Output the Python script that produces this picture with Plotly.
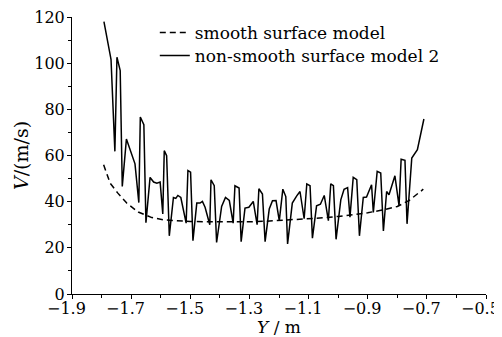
import plotly.graph_objects as go

# Smooth surface model
y_smooth = [-1.793, -1.771, -1.745, -1.715, -1.676, -1.630, -1.59, -1.55, -1.50, -1.45,
            -1.40, -1.35, -1.30, -1.25, -1.20, -1.15, -1.10, -1.05, -1.00, -0.95,
            -0.90, -0.85, -0.80, -0.76, -0.712]
v_smooth = [56.0, 48.0, 43.7, 39.4, 35.5, 33.1, 32.1, 31.7, 31.4, 31.3,
            31.2, 31.2, 31.3, 31.5, 31.8, 32.1, 32.5, 33.0, 33.6, 34.3,
            35.2, 36.4, 37.9, 40.5, 45.4]

# Non-smooth surface model 2
y_rough = [-1.792, -1.768, -1.755, -1.748, -1.737, -1.730, -1.716, -1.687, -1.674, -1.669,
           -1.657, -1.650, -1.636, -1.624, -1.613, -1.602, -1.593, -1.588, -1.580, -1.571,
           -1.557, -1.549, -1.542, -1.532, -1.514, -1.508, -1.499, -1.491, -1.478, -1.467,
           -1.459, -1.450, -1.434, -1.430, -1.419, -1.411, -1.394, -1.381, -1.368, -1.355,
           -1.349, -1.335, -1.328, -1.315, -1.302, -1.287, -1.274, -1.268, -1.256, -1.247,
           -1.233, -1.222, -1.210, -1.199, -1.187, -1.177, -1.171, -1.155, -1.140, -1.129,
           -1.115, -1.106, -1.095, -1.087, -1.073, -1.060, -1.047, -1.033, -1.025, -1.016,
           -1.007, -0.991, -0.980, -0.968, -0.960, -0.949, -0.937, -0.928, -0.915, -0.904,
           -0.887, -0.881, -0.868, -0.856, -0.847, -0.836, -0.828, -0.808, -0.794, -0.787,
           -0.774, -0.767, -0.751, -0.732, -0.710]
v_rough = [118.0, 101.6, 61.8, 102.6, 96.8, 46.6, 67.1, 56.4, 39.6, 76.7,
           73.4, 30.9, 50.5, 48.5, 48.0, 48.5, 34.7, 62.1, 59.9, 25.2,
           41.8, 41.4, 42.7, 41.8, 30.7, 53.5, 52.8, 23.1, 39.4, 39.4,
           40.1, 37.6, 30.0, 49.5, 46.9, 22.3, 37.9, 41.8, 40.5, 30.7,
           46.9, 45.9, 22.7, 37.2, 37.6, 40.1, 30.0, 45.6, 43.3, 22.7,
           36.8, 40.4, 40.5, 31.7, 45.4, 42.2, 21.7, 39.4, 42.5, 44.4,
           32.6, 47.7, 46.9, 24.2, 38.2, 38.9, 42.7, 31.8, 47.7, 46.9,
           23.7, 40.8, 45.4, 46.1, 33.3, 50.5, 49.5, 25.2, 41.8, 42.0,
           47.3, 35.3, 53.1, 52.4, 27.3, 44.4, 43.0, 51.2, 38.2, 58.4,
           57.9, 30.4, 58.9, 62.5, 75.8]

x_tickvals = [-1.9, -1.7, -1.5, -1.3, -1.1, -0.9, -0.7, -0.5]
# numbers centred on the tick, minus sign hanging to the left (as in the reference)
x_ticktext = ["\u22121.9\u2002\u2009", "\u22121.7\u2002\u2009", "\u22121.5\u2002\u2009",
              "\u22121.3\u2002\u2009", "\u22121.1\u2002\u2009", "\u22120.9\u2002\u2009",
              "\u22120.7\u2002\u2009", "\u22120.5\u2002\u2009"]
y_tickvals = [0, 20, 40, 60, 80, 100, 120]

FONT = "DejaVu Serif"
FS = 16

fig = go.Figure()
fig.add_trace(go.Scatter(x=y_smooth, y=v_smooth, mode="lines", name="smooth surface model",
                         legend="legend",
                         line=dict(color="black", width=1.5, dash="6px,4px")))
fig.add_trace(go.Scatter(x=y_rough, y=v_rough, mode="lines", name="non-smooth surface model 2",
                         legend="legend2",
                         line=dict(color="black", width=1.5)))

legend_common = dict(xanchor="left", yanchor="middle", bgcolor="rgba(0,0,0,0)",
                     font=dict(family=FONT, size=17), itemwidth=30, borderwidth=0)

# The page body adds an 8px offset, so the figure is sized to the visible area.
fig.update_layout(
    width=494, height=329,
    margin=dict(l=64, r=16, t=9, b=43, autoexpand=False),
    paper_bgcolor="white", plot_bgcolor="white",
    font=dict(family=FONT, size=FS, color="black"),
    showlegend=True,
    legend=dict(x=0.2, y=0.942, **legend_common),
    legend2=dict(x=0.2, y=0.859, **legend_common),
    xaxis=dict(range=[-1.9, -0.5], tickvals=x_tickvals, ticktext=x_ticktext,
               showline=True, linecolor="black", linewidth=1, showgrid=False, zeroline=False,
               ticks="outside", ticklen=4, tickcolor="black", automargin=False,
               ticklabeloverflow="allow", ticklabelstandoff=-4,
               minor=dict(tickvals=[-1.8, -1.6, -1.4, -1.2, -1.0, -0.8, -0.6], ticks="outside",
                          ticklen=3, tickcolor="black", showgrid=False),
               title=dict(text="<i>Y</i> / m", font=dict(family=FONT, size=17), standoff=0),
               tickfont=dict(family=FONT, size=FS)),
    yaxis=dict(range=[0, 120], tickvals=y_tickvals,
               showline=True, linecolor="black", linewidth=1, showgrid=False, zeroline=False,
               ticks="outside", ticklen=4, tickcolor="black", automargin=False,
               ticklabeloverflow="allow", ticklabelstandoff=-1,
               minor=dict(tickvals=[10, 30, 50, 70, 90, 110], ticks="outside",
                          ticklen=3, tickcolor="black", showgrid=False),
               title=dict(text="<i>V</i>/(m/s)", font=dict(family=FONT, size=19), standoff=0),
               tickfont=dict(family=FONT, size=FS)),
)

fig.write_html("out.html")
